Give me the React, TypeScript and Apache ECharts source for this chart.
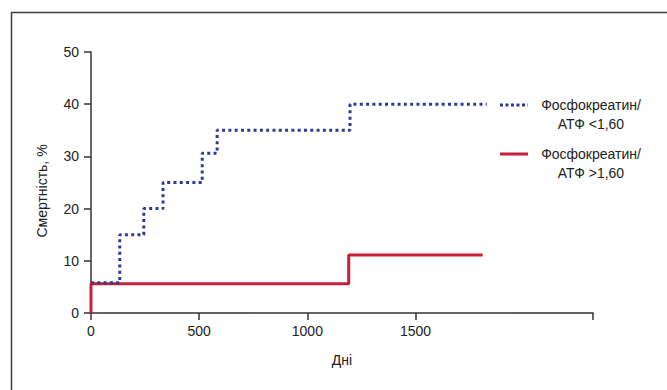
import React, { useEffect, useRef } from "react";
import * as echarts from "echarts";

const lowRatioLabel = "Фосфокреатин/\nАТФ <1,60";
const highRatioLabel = "Фосфокреатин/\nАТФ >1,60";

// Kaplan-Meier style steps: [day, mortality %]
const lowRatioDays = [0, 133, 244, 333, 514, 583, 1197, 1829];
const lowRatioMortality = [5.8, 15, 20, 25, 30.6, 35, 40, 40];
const highRatioDays = [0, 0, 1191, 1810];
const highRatioMortality = [0, 5.6, 11.1, 11.1];

const xTickValues = [0, 500, 1000, 1500, 2320];
const xLabelValues = [0, 500, 1000, 1500];

const BLUE = "#2c3b93";
const RED = "#c61f37";
const FONT = "Liberation Sans, Arial, sans-serif";

export default function App() {
  const ref = useRef<HTMLDivElement>(null);
  useEffect(() => {
    document.body.style.margin = "0";
    const chart = echarts.init(ref.current!, null, { renderer: "svg" });
    const lowData = lowRatioDays.map((d, i) => [d, lowRatioMortality[i]]);
    const highData = highRatioDays.map((d, i) => [d, highRatioMortality[i]]);
    chart.setOption({
      animation: false,
      backgroundColor: "#fff",
      grid: { left: 91, top: 52, right: 74, bottom: 77, containLabel: false },
      xAxis: {
        type: "value",
        min: 0,
        max: 2320,
        name: "Дні",
        nameLocation: "middle",
        nameGap: 40,
        nameTextStyle: { fontFamily: FONT, fontSize: 14, color: "#222" },
        axisLine: { show: true, lineStyle: { color: "#333", width: 1.5 } },
        axisTick: { show: true, length: 7, customValues: xTickValues, lineStyle: { color: "#333", width: 1.5 } },
        axisLabel: {
          customValues: xLabelValues,
          formatter: (v: number) => String(v),
          fontFamily: FONT,
          fontSize: 14,
          color: "#222",
          margin: 11,
        },
        splitLine: { show: false },
      },
      yAxis: {
        type: "value",
        min: 0,
        max: 50,
        interval: 10,
        axisLine: { show: true, lineStyle: { color: "#333", width: 1.5 } },
        axisTick: { show: true, length: 7, lineStyle: { color: "#333", width: 1.5 } },
        axisLabel: { fontFamily: FONT, fontSize: 14, color: "#222", margin: 12 },
        splitLine: { show: false },
      },
      series: [
        {
          name: highRatioLabel,
          type: "line",
          step: "end",
          data: highData,
          showSymbol: false,
          lineStyle: { color: RED, width: 3, type: "solid" },
          z: 2,
        },
        {
          name: lowRatioLabel,
          type: "line",
          step: "end",
          data: lowData,
          showSymbol: false,
          lineStyle: { color: BLUE, width: 3, type: [3, 3.3] },
          z: 3,
        },
      ],
      graphic: [
        {
          type: "rect",
          shape: { x: 11.5, y: 12.5, width: 700, height: 420 },
          style: { fill: "none", stroke: "#3d3d3d", lineWidth: 1.5 },
          silent: true,
        },
        {
          type: "text",
          x: 42,
          y: 191,
          rotation: Math.PI / 2,
          style: {
            text: "Смертність, %",
            font: `14px ${FONT}`,
            fill: "#222",
            align: "center",
            verticalAlign: "middle",
          },
        },
        {
          type: "line",
          shape: { x1: 500, y1: 105, x2: 528, y2: 105 },
          style: { stroke: BLUE, lineWidth: 3, lineDash: [3, 2.5] },
        },
        {
          type: "text",
          x: 591,
          y: 114,
          style: {
            text: lowRatioLabel,
            font: `14px ${FONT}`,
            lineHeight: 19,
            fill: "#222",
            align: "center",
            verticalAlign: "middle",
          },
        },
        {
          type: "line",
          shape: { x1: 500, y1: 154, x2: 528, y2: 154 },
          style: { stroke: RED, lineWidth: 3 },
        },
        {
          type: "text",
          x: 591,
          y: 163,
          style: {
            text: highRatioLabel,
            font: `14px ${FONT}`,
            lineHeight: 19,
            fill: "#222",
            align: "center",
            verticalAlign: "middle",
          },
        },
      ],
    });
    return () => chart.dispose();
  }, []);
  return <div ref={ref} style={{ width: 667, height: 390 }} />;
}
